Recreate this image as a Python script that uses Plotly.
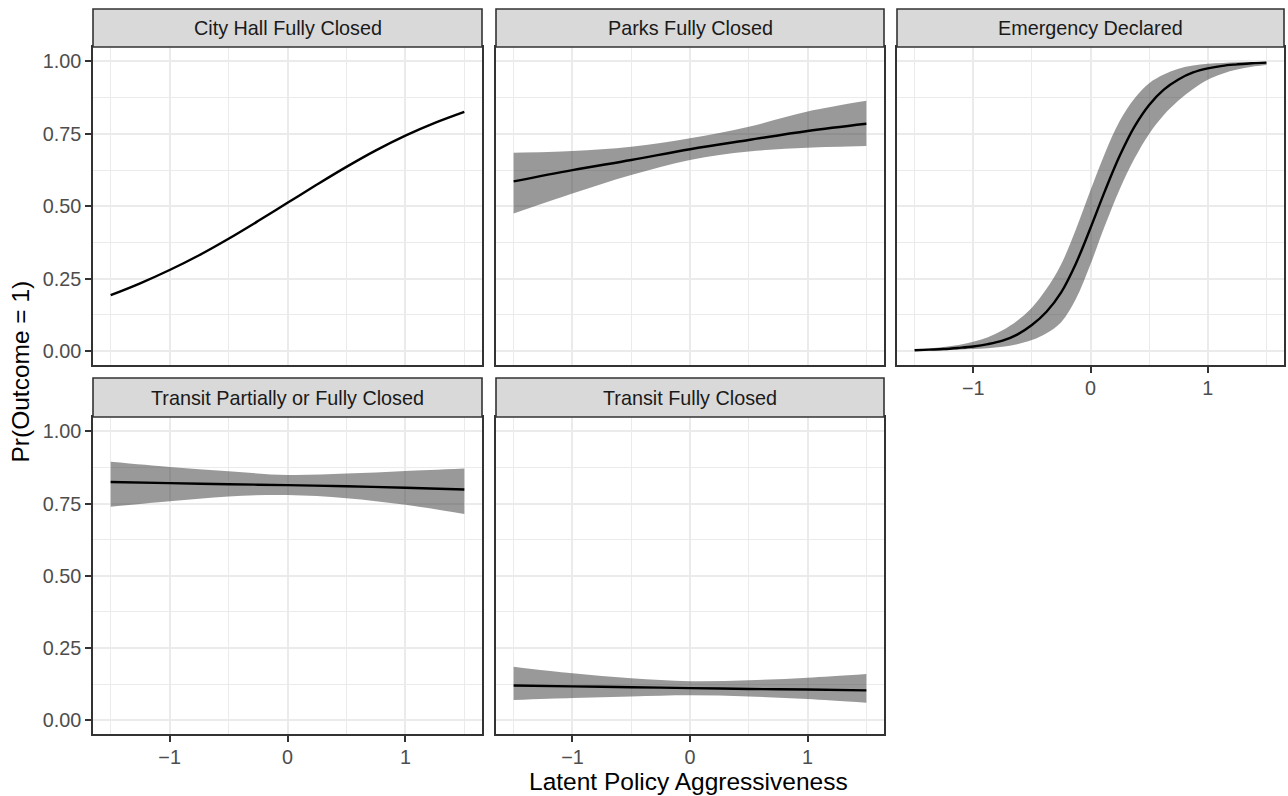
import plotly.graph_objects as go

# ---- data ---------------------------------------------------------------
panel_titles = [
    "City Hall Fully Closed",
    "Parks Fully Closed",
    "Emergency Declared",
    "Transit Partially or Fully Closed",
    "Transit Fully Closed",
]

# City Hall Fully Closed (no interval shown)
cityhall_x = [-1.5, -1.25, -1.0, -0.75, -0.5, -0.25, 0.0, 0.25, 0.5, 0.75, 1.0, 1.25, 1.5]
cityhall_fit = [0.193, 0.234, 0.280, 0.331, 0.388, 0.449, 0.512, 0.575, 0.636, 0.693, 0.744, 0.788, 0.826]

# Parks Fully Closed
parks_x = [-1.5, -1.0, -0.5, 0.0, 0.5, 1.0, 1.5]
parks_fit = [0.586, 0.625, 0.660, 0.697, 0.729, 0.760, 0.785]
parks_hi = [0.685, 0.691, 0.706, 0.735, 0.775, 0.827, 0.864]
parks_lo = [0.475, 0.544, 0.608, 0.660, 0.689, 0.702, 0.708]

# Emergency Declared
emerg_x = [-1.5, -1.375, -1.25, -1.125, -1.0, -0.875, -0.75, -0.625, -0.5, -0.375, -0.25,
           -0.125, 0.0, 0.125, 0.25, 0.375, 0.5, 0.625, 0.75, 0.875, 1.0, 1.125, 1.25,
           1.375, 1.5]
emerg_fit = [0.003, 0.005, 0.007, 0.011, 0.016, 0.024, 0.036, 0.057, 0.090, 0.136, 0.203,
             0.302, 0.425, 0.555, 0.675, 0.775, 0.850, 0.903, 0.938, 0.962, 0.976, 0.985,
             0.990, 0.994, 0.996]
emerg_hi = [0.006, 0.009, 0.014, 0.021, 0.032, 0.048, 0.072, 0.105, 0.150, 0.215, 0.300,
            0.420, 0.555, 0.685, 0.795, 0.872, 0.925, 0.955, 0.975, 0.986, 0.992, 0.995,
            0.997, 0.998, 0.999]
emerg_lo = [0.001, 0.002, 0.003, 0.005, 0.007, 0.010, 0.015, 0.024, 0.038, 0.062, 0.100,
            0.180, 0.300, 0.435, 0.560, 0.665, 0.750, 0.815, 0.865, 0.905, 0.937, 0.958,
            0.972, 0.982, 0.988]

# Transit Partially or Fully Closed
tpart_x = [-1.5, -1.0, -0.5, 0.0, 0.5, 1.0, 1.5]
tpart_fit = [0.825, 0.821, 0.817, 0.814, 0.810, 0.805, 0.799]
tpart_hi = [0.895, 0.877, 0.862, 0.849, 0.854, 0.863, 0.872]
tpart_lo = [0.739, 0.758, 0.775, 0.780, 0.769, 0.746, 0.714]

# Transit Fully Closed
tfull_x = [-1.5, -1.0, -0.5, 0.0, 0.5, 1.0, 1.5]
tfull_fit = [0.120, 0.117, 0.114, 0.111, 0.108, 0.106, 0.103]
tfull_hi = [0.185, 0.162, 0.145, 0.135, 0.138, 0.147, 0.160]
tfull_lo = [0.070, 0.077, 0.082, 0.086, 0.082, 0.073, 0.060]

x_ticks = [-1, 0, 1]
x_ticktext = ["\u22121", "0", "1"]
y_ticks = [0.0, 0.25, 0.5, 0.75, 1.0]
y_ticktext = ["0.00", "0.25", "0.50", "0.75", "1.00"]

# ---- layout geometry (pixels) -------------------------------------------
W, H = 1288, 796
cols = [(93, 482), (496, 884), (897, 1284)]
rows = [(47, 365), (417, 734)]          # plot area top/bottom
strips = [(9, 47), (378, 417)]          # strip top/bottom


def px_x(v):
    return v / W


def px_y(v):
    return 1 - v / H


FONT = "Liberation Sans, Arial, Helvetica, sans-serif"
TICK_SIZE = 19.8
TITLE_SIZE = 24.5
BORDER = "#333333"
GRID = "#EBEBEB"
BAND = "rgba(51,51,51,0.5)"

fig = go.Figure()

panels = [
    # (row, col, x, fit, lo, hi)
    (0, 0, cityhall_x, cityhall_fit, None, None),
    (0, 1, parks_x, parks_fit, parks_lo, parks_hi),
    (0, 2, emerg_x, emerg_fit, emerg_lo, emerg_hi),
    (1, 0, tpart_x, tpart_fit, tpart_lo, tpart_hi),
    (1, 1, tfull_x, tfull_fit, tfull_lo, tfull_hi),
]

shapes = []
annotations = []

for i, (r, c, xs, fit, lo, hi) in enumerate(panels):
    n = i + 1
    xa = "x" if n == 1 else f"x{n}"
    ya = "y" if n == 1 else f"y{n}"
    xkey = "xaxis" if n == 1 else f"xaxis{n}"
    ykey = "yaxis" if n == 1 else f"yaxis{n}"

    if lo is not None:
        fig.add_trace(go.Scatter(x=xs, y=lo, mode="lines", line=dict(width=0, shape="spline"),
                                 hoverinfo="skip", showlegend=False, xaxis=xa, yaxis=ya))
        fig.add_trace(go.Scatter(x=xs, y=hi, mode="lines", line=dict(width=0, shape="spline"),
                                 fill="tonexty", fillcolor=BAND,
                                 hoverinfo="skip", showlegend=False, xaxis=xa, yaxis=ya))
    fig.add_trace(go.Scatter(x=xs, y=fit, mode="lines",
                             line=dict(color="black", width=2.4, shape="spline"),
                             showlegend=False, xaxis=xa, yaxis=ya))

    x0, x1 = cols[c]
    y0, y1 = rows[r]
    show_x_labels = (r == 1) or (c == 2)
    show_y_labels = (c == 0)

    fig.layout[xkey] = dict(
        domain=[px_x(x0), px_x(x1)], range=[-1.65, 1.65], anchor=ya,
        tickmode="array", tickvals=x_ticks, ticktext=x_ticktext,
        showticklabels=show_x_labels, ticks="outside" if show_x_labels else "",
        ticklen=6, tickwidth=1.6, tickcolor=BORDER, ticklabelstandoff=-2,
        tickfont=dict(family=FONT, size=TICK_SIZE, color="#4D4D4D"),
        showgrid=True, gridcolor=GRID, gridwidth=2,
        minor=dict(tickmode="array", tickvals=[-1.5, -0.5, 0.5, 1.5],
                   showgrid=True, gridcolor=GRID, gridwidth=1.2),
        showline=True, linecolor=BORDER, linewidth=1.6, mirror=True,
        zeroline=False, fixedrange=True,
    )
    fig.layout[ykey] = dict(
        domain=[px_y(y1), px_y(y0)], range=[-0.048, 1.05], anchor=xa,
        tickmode="array", tickvals=y_ticks, ticktext=y_ticktext,
        showticklabels=show_y_labels, ticks="outside" if show_y_labels else "",
        ticklen=6, tickwidth=1.6, tickcolor=BORDER,
        tickfont=dict(family=FONT, size=TICK_SIZE, color="#4D4D4D"),
        showgrid=True, gridcolor=GRID, gridwidth=2,
        minor=dict(tickmode="array", tickvals=[0.125, 0.375, 0.625, 0.875],
                   showgrid=True, gridcolor=GRID, gridwidth=1.2),
        showline=True, linecolor=BORDER, linewidth=1.6, mirror=True,
        zeroline=False, fixedrange=True,
    )

    # facet strip
    s0, s1 = strips[r]
    shapes.append(dict(type="rect", xref="paper", yref="paper",
                       x0=px_x(x0), x1=px_x(x1), y0=px_y(s1), y1=px_y(s0),
                       fillcolor="#D9D9D9", line=dict(color=BORDER, width=1.6),
                       layer="above"))
    annotations.append(dict(text=panel_titles[i], xref="paper", yref="paper",
                            x=px_x((x0 + x1) / 2), y=px_y((s0 + s1) / 2),
                            xanchor="center", yanchor="middle", showarrow=False,
                            font=dict(family=FONT, size=TICK_SIZE, color="#1A1A1A")))

# axis titles
annotations.append(dict(text="Latent Policy Aggressiveness", xref="paper", yref="paper",
                        x=px_x((cols[0][0] + cols[2][1]) / 2), y=px_y(781),
                        xanchor="center", yanchor="middle", showarrow=False,
                        font=dict(family=FONT, size=TITLE_SIZE, color="black")))
annotations.append(dict(text="Pr(Outcome = 1)", xref="paper", yref="paper",
                        x=px_x(20), y=px_y((strips[0][0] + rows[1][1]) / 2),
                        xanchor="center", yanchor="middle", showarrow=False, textangle=-90,
                        font=dict(family=FONT, size=TITLE_SIZE, color="black")))

fig.update_layout(
    width=W, height=H,
    margin=dict(l=0, r=0, t=0, b=0),
    paper_bgcolor="white", plot_bgcolor="white",
    shapes=shapes, annotations=annotations,
    showlegend=False,
)

fig.write_html("out.html")
